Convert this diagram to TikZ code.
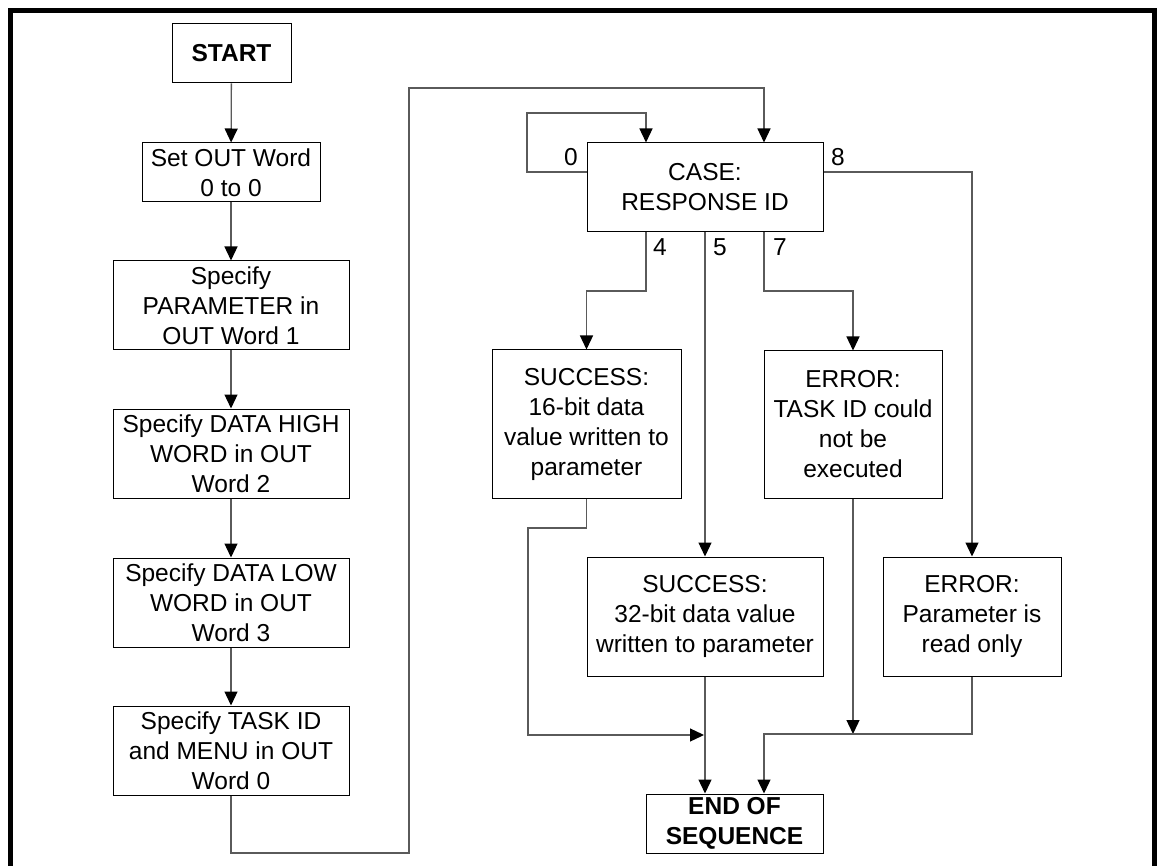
\documentclass[tikz,border=0pt]{standalone}
\usepackage{fontspec}
\setmainfont{Liberation Sans}
\usetikzlibrary{arrows.meta,calc}
\definecolor{lineg}{HTML}{5A5A5A}
\tikzset{
  box/.style={draw=black, line width=1pt, fill=white, inner sep=0pt, align=center,
    font=\fontsize{24.5}{30}\selectfont},
  boldbox/.style={box, font=\fontsize{24.5}{30}\selectfont\bfseries},
  conn/.style={draw=lineg, line width=1.3pt},
  arr/.style={conn, -{Triangle[width=13pt,length=14pt,color=black,fill=black]}},
  lbl/.style={font=\fontsize{24.5}{30}\selectfont, inner sep=0pt},
  frame/.style={draw=black, line width=5pt}
}
\begin{document}
\begin{tikzpicture}[x=1pt,y=-1pt]
\useasboundingbox (0,0) rectangle (1159,866);
\draw[frame] (10,880) -- (10,11) -- (1154,11) -- (1154,880);

\node[boldbox, minimum width=119pt, minimum height=59pt] (start) at (231.5,53.5) {START};
\node[box, minimum width=178pt, minimum height=59pt] (set) at (231,172.5) {Set OUT Word\\0 to 0};
\node[box, minimum width=236pt, minimum height=89pt] (param) at (231,305.5) {Specify\\PARAMETER in\\OUT Word 1};
\node[box, minimum width=236pt, minimum height=89pt] (high) at (231,453.5) {Specify DATA HIGH\\WORD in OUT\\Word 2};
\node[box, minimum width=236pt, minimum height=89pt] (low) at (231,602.5) {Specify DATA LOW\\WORD in OUT\\Word 3};
\node[box, minimum width=236pt, minimum height=89pt] (task) at (231,750.5) {Specify TASK ID\\and MENU in OUT\\Word 0};

\node[box, minimum width=236pt, minimum height=89pt] (case) at (705,187.5) {CASE:\\RESPONSE ID};
\node[box, minimum width=189pt, minimum height=148pt] (s16) at (586.5,424) {SUCCESS:\\16-bit data\\value written to\\parameter};
\node[box, minimum width=178pt, minimum height=147pt] (etask) at (853,424.5) {ERROR:\\TASK ID could\\not be\\executed};
\node[box, minimum width=236pt, minimum height=119pt] (s32) at (705,616.5) {SUCCESS:\\32-bit data value\\written to parameter};
\node[box, minimum width=178pt, minimum height=119pt] (ero) at (972,616.5) {ERROR:\\Parameter is\\read only};
\node[boldbox, minimum width=177pt, minimum height=59pt] (end) at (734.5,823.5) {END OF\\SEQUENCE};

\coordinate (c4) at (646,0);
\coordinate (c7) at (764,0);
\coordinate (cend) at (764,0);

% left column
\draw[arr] (start) -- (set);
\draw[arr] (set) -- (param);
\draw[arr] (param) -- (high);
\draw[arr] (high) -- (low);
\draw[arr] (low) -- (task);
\draw[arr] (task.south) -- (231,853) -- (409,853) -- (409,88) -- (764,88) -- (c7 |- case.north);

% loop 0
\draw[arr] ([yshift=15.5pt]case.west) -- (527,172) -- (527,113) -- (646,113) -- (c4 |- case.north);
% branch 8
\draw[arr] ([yshift=15.5pt]case.east) -- (972,172) -- (ero.north);
% branch 4
\draw[arr] (c4 |- case.south) -- (646,291) -- (586.5,291) -- (s16.north);
% branch 5
\draw[arr] (case.south) -- (s32.north);
% branch 7
\draw[arr] (c7 |- case.south) -- (764,291) -- (853,291) -- (etask.north);

% to end
\draw[arr] (s16.south) -- (586.5,528) -- (528,528) -- (528,735) -- (704,735);
\draw[arr] (s32.south) -- (s32.south |- end.north);
\draw[arr] (etask.south) -- (853,734);
\draw[arr] (ero.south) -- (972,734) -- (764,734) -- (cend |- end.north);

% labels
\node[lbl] (l0) at (571,157) {0};
\node[lbl] (l8) at (838,157) {8};
\node[lbl] (l4) at (660,247) {4};
\node[lbl] (l5) at (720,247) {5};
\node[lbl] (l7) at (780,247) {7};
\end{tikzpicture}
\end{document}
